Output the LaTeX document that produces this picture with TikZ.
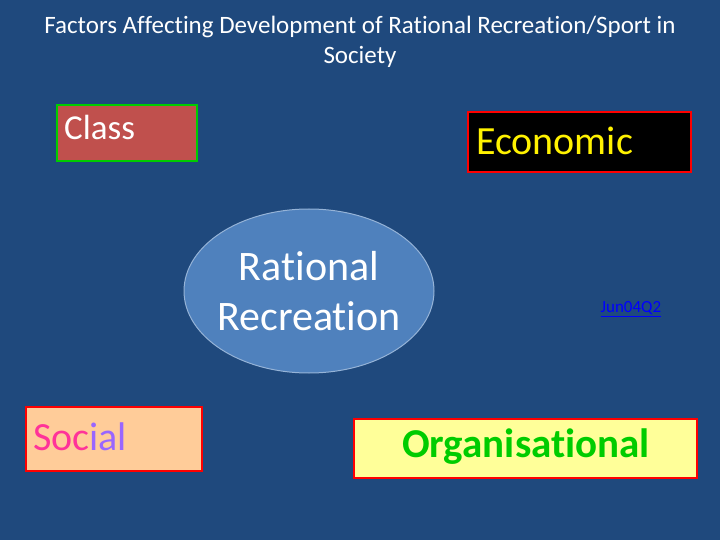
\documentclass[tikz,border=0pt]{standalone}
\usepackage{fontspec}
\setmainfont{Carlito}[Ligatures={NoCommon,NoRare,NoDiscretionary}]
\usetikzlibrary{shapes.geometric}
\definecolor{bg}{HTML}{1F497D}
\definecolor{classfill}{HTML}{C0504D}
\definecolor{ellfill}{HTML}{4F81BD}
\definecolor{socfill}{HTML}{FFCC99}
\definecolor{orgfill}{HTML}{FFFF99}
\definecolor{pinkt}{HTML}{FF3399}
\definecolor{purplet}{HTML}{9966FF}
\definecolor{greent}{HTML}{00CC00}
\begin{document}
\begin{tikzpicture}[x=1pt,y=-1pt,
  boxstyle/.style={draw=red,line width=2pt,anchor=north west,inner sep=0pt}]
\fill[bg] (0,0) rectangle (720,540);
\useasboundingbox (0,0) rectangle (720,540);
\node[text=white,align=center,font=\fontsize{25}{30}\selectfont] (title) at (360,42)
  {Factors Affecting Development of Rational Recreation/Sport in\\Society};
\node[boxstyle,draw=green!80!black,fill=classfill,minimum width=140pt,minimum height=56pt] (class) at (56,104) {};
\node[text=white,anchor=north west,font=\fontsize{35}{36}\selectfont,inner sep=0pt] (classt) at (64,115) {Class};
\node[boxstyle,fill=black,minimum width=223pt,minimum height=60pt] (econ) at (467,111) {};
\node[text=yellow,anchor=west,font=\fontsize{40}{42}\selectfont,inner sep=0pt] (econt) at (476,141) {Economic};
\node[ellipse,draw=ellfill!60!white,line width=1pt,fill=ellfill,minimum width=250pt,minimum height=164pt,
  inner sep=0pt] (rr) at (309,291) {};
\node[text=white,align=center,font=\fontsize{42}{50}\selectfont] (rrt) at (rr.center) {Rational\\Recreation};
\node[text=blue,font=\fontsize{17}{18}\selectfont] (jun) at (631,309) {\underline{Jun04Q2}};
\node[boxstyle,fill=socfill,minimum width=176pt,minimum height=64pt] (soc) at (25,406) {};
\node[anchor=west,font=\fontsize{40}{44}\selectfont,inner sep=0pt] (soct) at (33,437)
  {\textcolor{pinkt}{Soc}\textcolor{purplet}{ial}};
\node[boxstyle,fill=orgfill,minimum width=343pt,minimum height=59pt] (org) at (353,418) {};
\node[text=greent,font=\bfseries\fontsize{41}{42}\selectfont] (orgt) at (526,447) {Organisational};
\end{tikzpicture}
\end{document}
